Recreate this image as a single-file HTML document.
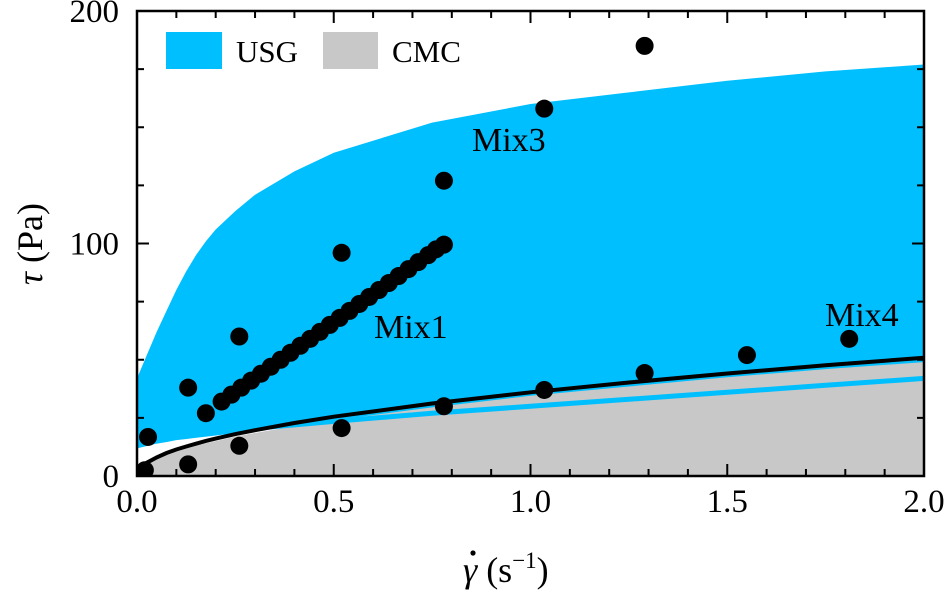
<!DOCTYPE html>
<html><head><meta charset="utf-8"><style>
html,body{margin:0;padding:0;background:#fff;}
svg{display:block;font-family:"Liberation Serif",serif;}
</style></head><body>
<svg id="chart" width="944" height="591" viewBox="0 0 944 591" xmlns="http://www.w3.org/2000/svg">
<defs><clipPath id="clip"><rect x="137" y="11" width="787" height="465"/></clipPath></defs>
<g id="plot" clip-path="url(#clip)"></g>
<g id="axes"></g>
</svg>
<script>
const curveX = [0,0.025,0.05,0.075,0.1,0.125,0.15,0.175,0.2,0.25,0.3,0.4,0.5,0.75,1.0,1.25,1.5,1.75,2.0];
const usgUpper = [42,52,62,71,80,88,95,101,106,114,121,131,139,152,160,165,170,174,177];
const usgLower = [13,14,15,15.7,16.5,17,17.5,18,18.5,19.5,20.5,22,23.5,27,30,33,36,39,42];
const cmcUpper = [0,5,7.5,9.2,10.5,11.8,13,14.1,15,17,18.5,21.5,24,29.5,34.5,38.5,42.5,46,49];
const fitY = [0,5.7,8,9.9,11.4,12.7,13.9,15.1,16.1,18,19.7,22.8,25.5,31.2,36,40.2,44.1,47.6,50.9];
const dotX = [0.028,0.02,0.13,0.13,0.26,0.26,0.52,0.52,0.78,0.78,1.035,1.035,1.29,1.29,1.55,1.81];
const dotY = [16.8,2.5,38,5,60,13,96,20.6,127,30,158,37,185,44.3,52,59];
const mix1X = [0.175,0.215,0.24,0.265,0.29,0.315,0.34,0.365,0.39,0.415,0.44,0.465,0.49,0.515,0.54,0.565,0.59,0.615,0.64,0.665,0.69,0.715,0.74,0.76,0.78];
const mix1Y = [27,32,35,38,41,44,47,50,53,56,59,62,65,68,71,74,77,80,83,86,89,92,95,97.5,99.5];
const xTicks = [0,0.5,1.0,1.5,2.0];
const xTickLabels = ["0.0","0.5","1.0","1.5","2.0"];
const yTicks = [0,100,200];
const yTickLabels = ["0","100","200"];

const NS="http://www.w3.org/2000/svg";
const X0=137,X1=924,Y0=476,Y1=11;
const sx=v=>X0+(v-0)/(2-0)*(X1-X0);
const sy=v=>Y0-(v-0)/(200-0)*(Y0-Y1);
const plot=document.getElementById('plot'), axes=document.getElementById('axes');
function mk(tag,attrs,parent){const e=document.createElementNS(NS,tag);for(const k in attrs)e.setAttribute(k,attrs[k]);parent.appendChild(e);return e;}
function line(xs,ys){return xs.map((x,i)=>(i?'L':'M')+sx(x).toFixed(1)+','+sy(ys[i]).toFixed(1)).join(' ');}

let rx=curveX.slice().reverse(), rl=usgLower.slice().reverse();
let p=mk('path',{d:line(curveX,usgUpper)+' '+line(rx,rl).replace('M','L')+' Z',fill:'#00bfff'},plot);


p=mk('path',{d:line(curveX,cmcUpper)+` L${sx(2)},${sy(0)} L${sx(0)},${sy(0)} Z`,fill:'#c8c8c8'},plot);


p=mk('path',{d:line(curveX,usgLower),fill:'none',stroke:'#00bfff','stroke-width':5},plot);


p=mk('path',{d:line(curveX,fitY),fill:'none',stroke:'#000','stroke-width':4},plot);


dotX.forEach((x,i)=>{
  const c=mk('circle',{cx:sx(x),cy:sy(dotY[i]),r:9,fill:'#000'},plot);
  
  
});
mix1X.forEach((x,i)=>{
  const c=mk('circle',{cx:sx(x),cy:sy(mix1Y[i]),r:9,fill:'#000'},plot);
  
  
});
[["Mix3",472,151],["Mix1",374,338],["Mix4",825,326]].forEach(l=>{
  const t=mk('text',{x:l[1],y:l[2],'font-size':34,fill:'#000'},plot);t.textContent=l[0];
  
  
});
let r=mk('rect',{x:166,y:32,width:56,height:37,fill:'#00bfff'},axes);


let t=mk('text',{x:236,y:62,'font-size':31},axes);t.textContent='USG';


r=mk('rect',{x:323,y:32,width:55,height:37,fill:'#c8c8c8'},axes);


t=mk('text',{x:392,y:62,'font-size':31},axes);t.textContent='CMC';


r=mk('rect',{x:X0,y:Y1,width:X1-X0,height:Y0-Y1,fill:'none',stroke:'#000','stroke-width':2.5},axes);


let d='';
for(let k=0;k<=20;k++){const v=k*0.1,x=sx(v),L=(k%5===0)?12:7;d+=`M${x},${Y0}v${-L}M${x},${Y1}v${L}`;}
for(let k=0;k<=8;k++){const v=k*25,y=sy(v),L=(k%4===0)?12:7;d+=`M${X0},${y}h${L}M${X1},${y}h${-L}`;}
p=mk('path',{d:d,stroke:'#000','stroke-width':2,fill:'none'},axes);


xTicks.forEach((v,i)=>{const e=mk('text',{x:sx(v),y:512,'font-size':33,'text-anchor':'middle'},axes);e.textContent=xTickLabels[i];
  
  });
yTicks.forEach((v,i)=>{const e=mk('text',{x:119,y:sy(v)+11,'font-size':33,'text-anchor':'end'},axes);e.textContent=yTickLabels[i];
  
  });
t=mk('text',{x:463,y:582,'font-size':36},axes);
t.innerHTML='<tspan font-style="italic">γ</tspan> (s<tspan dy="-14" font-size="23">−1</tspan><tspan dy="14">)</tspan>';


let dot=mk('circle',{cx:473,cy:553,r:2.6,fill:'#000'},axes);


t=mk('text',{x:0,y:0,'font-size':36,'text-anchor':'middle',transform:'translate(42,244) rotate(-90)'},axes);
t.innerHTML='<tspan font-style="italic">τ</tspan> (Pa)';


</script>
</body></html>
